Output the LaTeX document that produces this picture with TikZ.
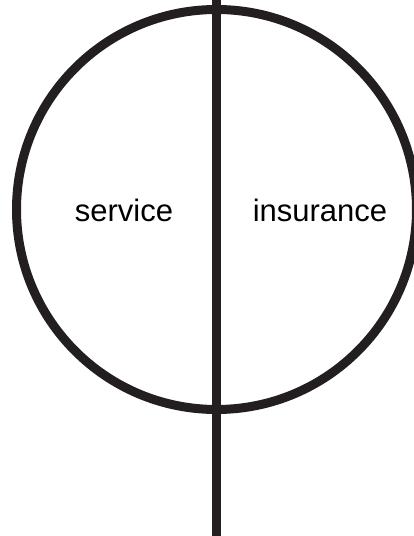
\documentclass[tikz,border=0pt]{standalone}
\usepackage{fontspec}
\setmainfont{Liberation Sans}
\usetikzlibrary{positioning}
\definecolor{ink}{HTML}{231F20}
\tikzset{
	rim/.style={draw=ink, line width=9pt},
	label/.style={font=\fontsize{31}{37}\selectfont, anchor=base, inner sep=0pt},
}

\begin{document}
\begin{tikzpicture}[x=1pt,y=1pt]
		\useasboundingbox (0,0) rectangle (414,536);
		\coordinate (C) at (216.5,326.5);
		\coordinate (top) at (216.5,536);
		\coordinate (bot) at (216.5,0);
		\draw[rim] (C) circle[radius=200];
		\draw[rim] (top) -- (bot);
		\node[label] (service) at (124,314) {service};
		\node[label] (insurance) at (320,314) {insurance};
	\end{tikzpicture}
\end{document}
